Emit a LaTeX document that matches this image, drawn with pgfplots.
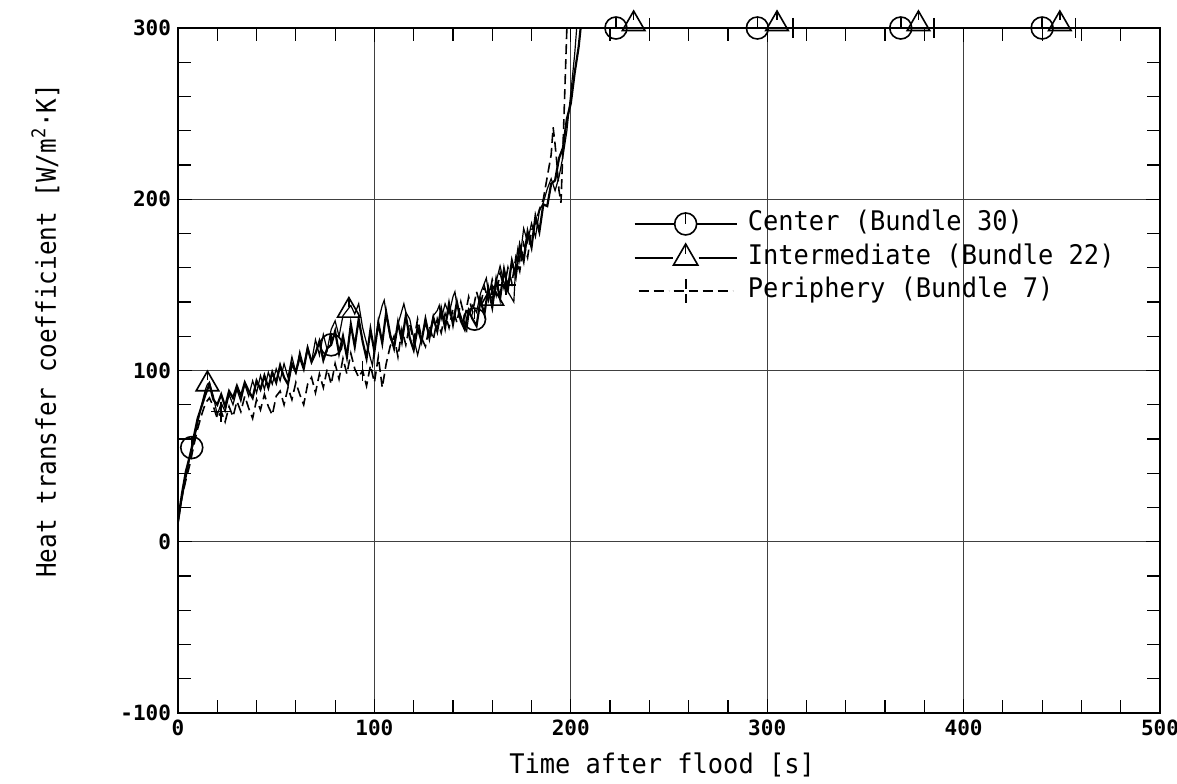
\documentclass[border=0pt]{standalone}
\usepackage{fontspec}
\usepackage{graphicx}
\usepackage{pgfplots}
\pgfplotsset{compat=1.18}
\newfontfamily\dvm{DejaVu Sans Mono}
\newcommand{\lbl}[1]{\scalebox{0.94}[1]{#1}}
\newcommand{\ylbl}[1]{\scalebox{0.9}[1]{#1}}

\pgfdeclareplotmark{ctick}{%
  \pgfpathcircle{\pgfpointorigin}{\pgfplotmarksize}%
  \pgfusepathqstroke
  \pgfpathmoveto{\pgfqpoint{0pt}{\pgfplotmarksize}}%
  \pgfpathlineto{\pgfpointorigin}%
  \pgfusepathqstroke}
\pgfdeclareplotmark{ttick}{%
  \pgfpathmoveto{\pgfqpoint{0pt}{\pgfplotmarksize}}%
  \pgfpathlineto{\pgfqpoint{-0.866\pgfplotmarksize}{-0.5\pgfplotmarksize}}%
  \pgfpathlineto{\pgfqpoint{0.866\pgfplotmarksize}{-0.5\pgfplotmarksize}}%
  \pgfpathclose
  \pgfusepathqstroke
  \pgfpathmoveto{\pgfqpoint{0pt}{\pgfplotmarksize}}%
  \pgfpathlineto{\pgfqpoint{0pt}{0.3\pgfplotmarksize}}%
  \pgfusepathqstroke}

\begin{document}
\begin{tikzpicture}
\begin{axis}[
  width=491pt, height=342.5pt, scale only axis,
  xmin=0, xmax=500, ymin=-100, ymax=300,
  xtick={0,100,...,500}, ytick={-100,0,...,300},
  minor x tick num=4, minor y tick num=4,
  tick align=inside,
  major tick length=7pt, minor tick length=6.5pt,
  every tick/.style={black, line width=0.6pt},
  grid=major, major grid style={black!75, line width=0.5pt},
  axis line style={line width=1.2pt},
  tick label style={font=\dvm\bfseries\fontsize{10.5}{12}\selectfont},
  /pgf/number format/assume math mode=true,
  label style={font=\dvm\fontsize{13.5}{16}\selectfont},
  xlabel={\lbl{Time after flood [s]}},
  ylabel={\ylbl{Heat transfer coefficient [W/m\textsuperscript{2}·K]}},
  xlabel style={at={(axis description cs:0.493,-0.076)}, anchor=center},
  ylabel style={at={(axis description cs:-0.135,0.558)}, anchor=center},
  clip mode=individual,
  legend cell align=left,
  legend style={at={(axis cs:231.7,193.4)}, anchor=north west, draw=none, fill=none,
    inner sep=0pt, column sep=5pt, row sep=3.5pt,
    font=\dvm\fontsize{13.5}{16}\selectfont,
    nodes={inner sep=0pt, text height=10pt, text depth=3pt}},
]
\path (rel axis cs:0,0) coordinate (bl) (rel axis cs:1,1) coordinate (tr);

% Center (Bundle 30)
\addplot[black, line width=1.1pt,
  legend image code/.code={%
    \draw[line width=1.2pt] (0pt,0pt) -- (20pt,0pt) (31pt,0pt) -- (51pt,0pt);
    \draw[line width=0.8pt] plot[only marks, mark=ctick, mark size=5.5pt] coordinates {(25.5pt,0pt)};}]
coordinates {
(0,12) (2,28) (4,41) (6,50) (7,55) (8,61) (10,72) (12,79) (14,86) (16,92) (18,83) (20,80)
(22,86) (24,79) (26,88) (28,84) (30,91) (32,85) (34,93) (36,88) (38,84) (40,94) (42,89)
(44,97) (46,90) (48,99) (50,93) (52,103) (54,96) (56,92) (58,104) (60,99) (62,108) (64,101)
(66,113) (68,105) (70,110) (72,117) (74,106) (76,113) (78,115) (80,123) (82,110) (84,120)
(86,108) (88,127) (90,114) (92,130) (94,117) (96,107) (98,124) (100,111) (102,128) (104,116)
(106,134) (108,121) (110,113) (112,128) (114,117) (116,132) (118,119) (120,112) (122,125)
(124,117) (126,130) (128,119) (130,131) (132,123) (134,136) (136,125) (138,139) (140,127)
(142,140) (144,129) (146,124) (148,135) (150,130) (152,126) (154,141) (156,133) (158,148)
(160,137) (162,153) (164,142) (166,159) (168,148) (170,164) (172,155) (174,173) (176,164)
(178,181) (180,172) (182,190) (184,181) (186,197) (188,196) (190,209) (192,211) (194,224)
(196,230) (198,247) (200,256) (202,274) (204,289) (205,300)
};
\addlegendentry{\lbl{Center (Bundle 30)}}

% Intermediate (Bundle 22)
\addplot[black, line width=0.6pt,
  legend image code/.code={%
    \draw[line width=0.6pt] (0pt,0pt) -- (19pt,0pt) (32pt,0pt) -- (51pt,0pt);
    \draw[line width=0.8pt] plot[only marks, mark=ttick, mark size=7pt] coordinates {(25.5pt,0pt)};}]
coordinates {
(0,10) (2,25) (4,37) (6,49) (8,58) (10,69) (12,80) (14,89) (15,92) (16,93) (18,85) (20,74)
(22,81) (24,76) (26,86) (28,80) (30,89) (32,82) (34,92) (36,85) (38,94) (40,87) (42,97)
(44,89) (46,99) (48,92) (50,101) (52,94) (54,104) (56,96) (58,108) (60,99) (62,111) (64,102)
(66,114) (68,105) (70,118) (72,109) (74,121) (76,112) (78,124) (80,129) (82,120) (84,132)
(86,135) (88,138) (90,133) (92,139) (94,125) (96,116) (98,107) (99,103) (100,113) (102,129)
(104,138) (105,141) (106,133) (108,119) (110,114) (112,127) (114,135) (115,139) (116,134)
(118,130) (120,119) (122,109) (124,119) (126,127) (128,121) (130,132) (132,135) (133,138)
(134,130) (136,139) (138,133) (140,143) (141,146) (142,138) (144,132) (146,125) (147,123)
(148,132) (150,138) (152,134) (154,145) (156,151) (157,154) (158,146) (160,142) (162,152)
(164,161) (166,151) (168,146) (170,142) (171,140) (172,163) (173,171) (174,164) (176,183)
(178,175) (180,186) (182,178) (184,193) (186,198) (188,206) (190,212) (192,205) (194,213)
(196,225) (198,240) (200,262) (202,285) (203,300)
};
\addlegendentry{\lbl{Intermediate (Bundle 22)}}

% Periphery (Bundle 7)
\addplot[black, line width=0.8pt, dash pattern=on 5pt off 2.5pt,
  legend image code/.code={%
    \draw[line width=0.9pt] (2pt,0pt) -- (17pt,0pt) (34pt,0pt) -- (49pt,0pt);
    \draw[line width=0.9pt] plot[only marks, mark=+, mark size=6pt] coordinates {(25.5pt,0pt)};}]
coordinates {
(0,14) (2,26) (4,36) (6,45) (8,56) (10,66) (12,74) (14,81) (16,84) (18,79) (20,72) (22,76)
(24,70) (26,79) (28,73) (30,82) (32,76) (34,85) (36,78) (38,72) (40,83) (42,77) (44,86)
(46,79) (48,74) (50,85) (52,88) (54,80) (56,90) (58,83) (60,93) (62,86) (64,80) (66,92)
(68,96) (70,87) (72,98) (74,90) (76,101) (78,92) (80,104) (82,95) (84,107) (86,98) (88,110)
(90,101) (92,96) (94,100) (96,91) (98,103) (100,93) (102,108) (104,90) (106,104) (108,114)
(110,120) (112,108) (114,124) (116,115) (118,127) (120,117) (122,130) (124,119) (126,114)
(128,126) (130,118) (132,130) (134,122) (136,133) (138,125) (140,136) (142,128) (144,140)
(146,131) (148,143) (150,134) (152,146) (154,138) (156,149) (158,141) (160,153) (162,144)
(164,157) (166,148) (168,160) (170,151) (172,166) (174,158) (176,174) (178,166) (180,182)
(182,186) (184,194) (186,200) (188,213) (190,226) (191,242) (192,232) (193,220) (194,205)
(195,198) (196,230) (197,265) (198,300)
};
\addlegendentry{\lbl{Periphery (Bundle 7)}}

% markers
\addplot[only marks, mark=ctick, mark size=5.5pt, mark options={line width=0.8pt, solid}, forget plot]
coordinates {(7,55) (78,115) (151,130) (223,300) (295,300) (368,300) (440,300)};
\addplot[only marks, mark=ttick, mark size=6.5pt, mark options={line width=0.8pt, solid}, forget plot]
coordinates {(15,92) (87,135) (160,142)};
\addplot[only marks, mark=ttick, mark size=6.5pt, mark options={line width=0.8pt, solid, yshift=2pt}, forget plot]
coordinates {(232,300) (305,300) (377,300) (449,300)};
\addplot[only marks, mark=+, mark size=5pt, mark options={line width=0.8pt, solid}, forget plot]
coordinates {(22,76) (94,100) (167,150) (240,300) (313,300) (385,300) (457,300)};
\end{axis}
\pgfresetboundingbox
\useasboundingbox ([shift={(-89pt,-35pt)}]bl) rectangle ([shift={(8.5pt,14pt)}]tr);
\end{tikzpicture}
\end{document}
